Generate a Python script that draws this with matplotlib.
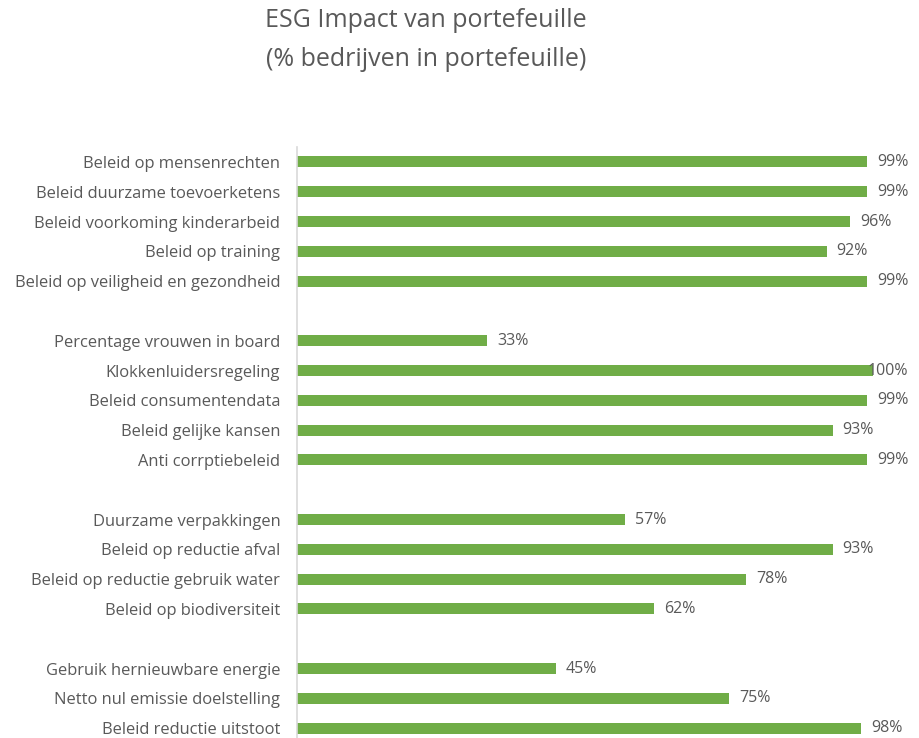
import numpy as np
import matplotlib.pyplot as plt

plt.rcParams['font.family'] = ['Open Sans', 'DejaVu Sans']

# Groepen (van boven naar beneden)
sociaal_labels = ["Beleid op mensenrechten", "Beleid duurzame toevoerketens",
                  "Beleid voorkoming kinderarbeid", "Beleid op training",
                  "Beleid op veiligheid en gezondheid"]
sociaal_waarden = [99, 99, 96, 92, 99]

bestuur_labels = ["Percentage vrouwen in board", "Klokkenluidersregeling",
                  "Beleid consumentendata", "Beleid gelijke kansen",
                  "Anti corrptiebeleid"]
bestuur_waarden = [33, 100, 99, 93, 99]

milieu_labels = ["Duurzame verpakkingen", "Beleid op reductie afval",
                 "Beleid op reductie gebruik water", "Beleid op biodiversiteit"]
milieu_waarden = [57, 93, 78, 62]

klimaat_labels = ["Gebruik hernieuwbare energie", "Netto nul emissie doelstelling",
                  "Beleid reductie uitstoot"]
klimaat_waarden = [45, 75, 98]

# Samenvoegen met lege regels tussen de groepen
labels = []
waarden = []
groepen = [(sociaal_labels, sociaal_waarden), (bestuur_labels, bestuur_waarden),
           (milieu_labels, milieu_waarden), (klimaat_labels, klimaat_waarden)]
for i, (lab, val) in enumerate(groepen):
    if i > 0:
        labels.append("")
        waarden.append(np.nan)
    labels += lab
    waarden += val

grijs = "#595959"
groen = "#70AD47"

W, H = 919, 738
fig = plt.figure(figsize=(W / 100, H / 100), dpi=100)
ax = fig.add_axes([297 / W, 0, (873 - 297) / W, 1 - 147 / H])

y = np.arange(len(labels))
ax.barh(y, waarden, height=0.37, color=groen)
ax.set_xlim(0, 100)
ax.set_ylim(19.33, -0.5)

for yi, v in zip(y, waarden):
    if np.isnan(v):
        continue
    xpos = v + 1.7 if v < 100 else 99.1
    ax.text(xpos, yi, f"{v:.0f}%", va="center", ha="left",
            fontsize=11.5, color=grijs, clip_on=False)

ax.set_yticks(y)
ax.set_yticklabels(labels, fontsize=11.9, color=grijs)
ax.tick_params(axis="y", length=0, pad=12)
ax.set_xticks([])
for s in ["top", "right", "bottom"]:
    ax.spines[s].set_visible(False)
ax.spines["left"].set_color("#D9D9D9")
ax.spines["left"].set_linewidth(1.2)

fig.text(426 / W, 1 - 40 / H, "ESG Impact van portefeuille\n(% bedrijven in portefeuille)",
         ha="center", va="center", fontsize=18, color=grijs, linespacing=1.7)

fig.savefig("out.png", dpi=100)
